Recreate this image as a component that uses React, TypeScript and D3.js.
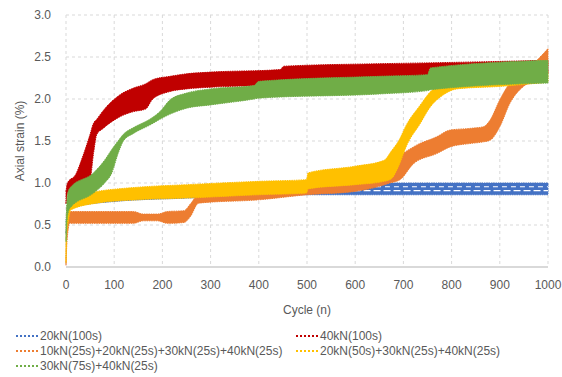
import React from "react";
import * as d3 from "d3";

const W = 562;
const H = 377;

const xTicks = [0, 100, 200, 300, 400, 500, 600, 700, 800, 900, 1000];
const yTicks = [0, 0.5, 1.0, 1.5, 2.0, 2.5, 3.0];

// 20kN(100s)
const blueCycles = [0, 2, 5, 20, 100, 250, 400, 500, 600, 700, 800, 900, 1000];
const blueLow = [0.4, 0.55, 0.66, 0.72, 0.78, 0.82, 0.85, 0.86, 0.86, 0.86, 0.86, 0.86, 0.86];
const blueHigh = [0.5, 0.7, 0.78, 0.84, 0.9, 0.95, 0.97, 0.99, 1.0, 1.0, 1.0, 1.0, 1.0];

// 40kN(100s)
const redCycles = [0, 3, 20, 35, 50, 57, 64, 77, 112, 140, 165, 180, 216, 250, 300, 444, 452, 650, 750, 1000];
const redLow = [0.75, 0.88, 0.95, 1.0, 1.05, 1.35, 1.58, 1.65, 1.79, 1.85, 1.88, 2.0, 2.09, 2.12, 2.14, 2.17, 2.2, 2.24, 2.27, 2.3];
const redHigh = [0.9, 1.0, 1.1, 1.32, 1.58, 1.71, 1.76, 1.86, 2.05, 2.13, 2.18, 2.23, 2.27, 2.3, 2.32, 2.35, 2.39, 2.42, 2.43, 2.46];

// 10kN(25s)+20kN(25s)+30kN(25s)+40kN(25s)
const orangeCycles = [0, 2, 8, 140, 160, 190, 210, 245, 258, 275, 400, 500, 600, 650, 672, 693, 721, 769, 797, 838, 866, 880, 900, 921, 949, 977, 1000];
const orangeLow = [0.02, 0.3, 0.52, 0.52, 0.55, 0.55, 0.52, 0.53, 0.6, 0.76, 0.8, 0.86, 0.9, 0.96, 1.0, 1.04, 1.23, 1.35, 1.43, 1.47, 1.49, 1.51, 1.67, 1.95, 2.15, 2.23, 2.4];
const orangeHigh = [0.1, 0.5, 0.66, 0.66, 0.63, 0.63, 0.66, 0.67, 0.75, 0.86, 0.92, 0.98, 1.02, 1.05, 1.12, 1.31, 1.43, 1.55, 1.63, 1.65, 1.67, 1.75, 1.99, 2.19, 2.31, 2.46, 2.6];

// 20kN(50s)+30kN(25s)+40kN(25s)
const yellowCycles = [0, 1, 5, 10, 64, 150, 250, 400, 499, 502, 600, 660, 675, 690, 707, 734, 755, 783, 811, 900, 1000];
const yellowLow = [0.05, 0.35, 0.55, 0.68, 0.76, 0.8, 0.82, 0.86, 0.88, 0.93, 0.98, 1.02, 1.05, 1.2, 1.45, 1.7, 1.9, 2.05, 2.12, 2.15, 2.2];
const yellowHigh = [0.2, 0.55, 0.78, 0.84, 0.9, 0.95, 0.98, 1.02, 1.04, 1.12, 1.2, 1.27, 1.38, 1.5, 1.7, 1.92, 2.08, 2.2, 2.25, 2.28, 2.33];

// 30kN(75s)+40kN(25s)
const greenCycles = [0, 3, 8, 57, 80, 95, 108, 119, 140, 174, 195, 216, 250, 300, 390, 400, 650, 750, 756, 1000];
const greenLow = [0.3, 0.6, 0.7, 0.88, 1.0, 1.12, 1.35, 1.5, 1.59, 1.69, 1.76, 1.82, 1.89, 1.93, 2.0, 2.01, 2.06, 2.1, 2.11, 2.19];
const greenHigh = [0.5, 0.85, 0.94, 1.12, 1.27, 1.4, 1.5, 1.58, 1.66, 1.76, 1.85, 1.99, 2.07, 2.12, 2.16, 2.21, 2.27, 2.29, 2.37, 2.46];

const seriesNames = [
  "20kN(100s)",
  "40kN(100s)",
  "10kN(25s)+20kN(25s)+30kN(25s)+40kN(25s)",
  "20kN(50s)+30kN(25s)+40kN(25s)",
  "30kN(75s)+40kN(25s)",
];
const seriesColors = ["#4472C4", "#C00000", "#ED7D31", "#FFC000", "#70AD47"];

const series = [
  { cycles: blueCycles, low: blueLow, high: blueHigh, strands: true },
  { cycles: redCycles, low: redLow, high: redHigh, strands: false },
  { cycles: orangeCycles, low: orangeLow, high: orangeHigh, strands: false },
  { cycles: yellowCycles, low: yellowLow, high: yellowHigh, strands: false },
  { cycles: greenCycles, low: greenLow, high: greenHigh, strands: false },
];

const FONT = "'Liberation Sans', Arial, sans-serif";
const TEXT = "#595959";

export default function App() {
  const left = 66;
  const right = 548;
  const top = 15;
  const bottom = 267;
  const x = d3.scaleLinear().domain([0, 1000]).range([left, right]);
  const y = d3.scaleLinear().domain([0, 3]).range([bottom, top]);

  type P = { c: number; lo: number; hi: number };
  const area = d3
    .area<P>()
    .x((d) => x(d.c))
    .y0((d) => y(d.lo))
    .y1((d) => y(d.hi))
    .curve(d3.curveMonotoneX);
  const strand = (f: number) =>
    d3
      .line<P>()
      .x((d) => x(d.c))
      .y((d) => y(d.lo + (d.hi - d.lo) * f))
      .curve(d3.curveMonotoneX);

  const legendItems = [
    { i: 0, lx: 16, ly: 336 },
    { i: 1, lx: 296, ly: 336 },
    { i: 2, lx: 16, ly: 351 },
    { i: 3, lx: 296, ly: 351 },
    { i: 4, lx: 16, ly: 366 },
  ];

  return (
    <svg
      width={W}
      height={H}
      style={{ position: "absolute", left: 0, top: 0, background: "#fff" }}
      fontFamily={FONT}
    >
      <rect x={0} y={0} width={W} height={H} fill="#fff" />
      {/* grid */}
      {yTicks
        .filter((t) => t > 0)
        .map((t) => (
          <line
            key={"gy" + t}
            x1={left}
            x2={right}
            y1={y(t)}
            y2={y(t)}
            stroke="#D9D9D9"
            strokeWidth={1}
            strokeDasharray="3,3"
          />
        ))}
      {xTicks.map((t) => (
        <line
          key={"gx" + t}
          x1={x(t)}
          x2={x(t)}
          y1={top}
          y2={bottom}
          stroke="#D9D9D9"
          strokeWidth={1}
          strokeDasharray="3,3"
        />
      ))}
      <line x1={left} x2={right} y1={bottom} y2={bottom} stroke="#D9D9D9" strokeWidth={2} />

      {/* bands */}
      {series.map((s, si) => {
        const pts: P[] = s.cycles.map((c, k) => ({ c, lo: s.low[k], hi: s.high[k] }));
        return (
          <g key={"s" + si}>
            <path
              d={area(pts) || ""}
              fill={seriesColors[si]}
              stroke={seriesColors[si]}
              strokeWidth={1}
              strokeDasharray="1.5,0.8"
            />
            {s.strands && (
              <>
                <path d={strand(0.35)(pts) || ""} fill="none" stroke="#fff" strokeWidth={1.2} strokeDasharray="7,3" />
                <path d={strand(0.68)(pts) || ""} fill="none" stroke="#fff" strokeWidth={1.2} strokeDasharray="5,4" />
              </>
            )}
          </g>
        );
      })}

      {/* y tick labels */}
      {yTicks.map((t) => (
        <text
          key={"ty" + t}
          x={51}
          y={y(t)}
          dy="0.35em"
          textAnchor="end"
          fontSize={12}
          fill={TEXT}
        >
          {t.toFixed(1)}
        </text>
      ))}
      {/* x tick labels */}
      {xTicks.map((t) => (
        <text
          key={"tx" + t}
          x={x(t)}
          y={285}
          dy="0.35em"
          textAnchor="middle"
          fontSize={12}
          fill={TEXT}
        >
          {t}
        </text>
      ))}

      <text
        transform={`translate(20,${(top + bottom) / 2}) rotate(-90)`}
        textAnchor="middle"
        dy="0.35em"
        fontSize={12}
        fill={TEXT}
      >
        Axial strain (%)
      </text>
      <text x={307} y={310} dy="0.35em" textAnchor="middle" fontSize={12} fill={TEXT}>
        Cycle (n)
      </text>

      {/* legend */}
      {legendItems.map(({ i, lx, ly }) => (
        <g key={"lg" + i}>
          <line
            x1={lx}
            x2={lx + 22}
            y1={ly}
            y2={ly}
            stroke={seriesColors[i]}
            strokeWidth={2}
            strokeDasharray="2,2"
          />
          <text x={lx + 24} y={ly} dy="0.35em" fontSize={12} fill={TEXT}>
            {seriesNames[i]}
          </text>
        </g>
      ))}
    </svg>
  );
}
